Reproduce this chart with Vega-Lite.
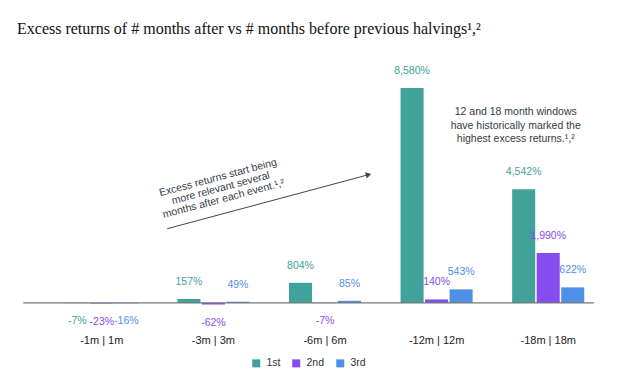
{
  "$schema": "https://vega.github.io/schema/vega-lite/v6.json",
  "autosize": "none",
  "width": 558,
  "height": 263,
  "padding": {"left": 46, "top": 65, "right": 40, "bottom": 49},
  "background": "white",
  "title": {
    "text": "Excess returns of # months after vs # months before previous halvings¹,²",
    "anchor": "start",
    "frame": "group",
    "dx": -29,
    "offset": 15,
    "baseline": "alphabetic",
    "font": "Liberation Serif",
    "fontSize": 16,
    "fontWeight": "normal",
    "color": "#111111"
  },
  "config": {
    "view": {"stroke": null},
    "font": "Liberation Sans"
  },
  "datasets": {
    "bars": [
      {"window": "-1m | 1m", "series": "1st", "value": -7, "label": "-7%"},
      {"window": "-1m | 1m", "series": "2nd", "value": -23, "label": "-23%"},
      {"window": "-1m | 1m", "series": "3rd", "value": -16, "label": "-16%"},
      {"window": "-3m | 3m", "series": "1st", "value": 157, "label": "157%"},
      {"window": "-3m | 3m", "series": "2nd", "value": -62, "label": "-62%"},
      {"window": "-3m | 3m", "series": "3rd", "value": 49, "label": "49%"},
      {"window": "-6m | 6m", "series": "1st", "value": 804, "label": "804%"},
      {"window": "-6m | 6m", "series": "2nd", "value": -7, "label": "-7%"},
      {"window": "-6m | 6m", "series": "3rd", "value": 85, "label": "85%"},
      {"window": "-12m | 12m", "series": "1st", "value": 8580, "label": "8,580%"},
      {"window": "-12m | 12m", "series": "2nd", "value": 140, "label": "140%"},
      {"window": "-12m | 12m", "series": "3rd", "value": 543, "label": "543%"},
      {"window": "-18m | 18m", "series": "1st", "value": 4542, "label": "4,542%"},
      {"window": "-18m | 18m", "series": "2nd", "value": 1990, "label": "1,990%"},
      {"window": "-18m | 18m", "series": "3rd", "value": 622, "label": "622%"}
    ],
    "baseline": [{"ix": -0.204, "ix2": 4.908, "v": 0}],
    "arrow": [{"ix": 1.087, "v": 2965, "ix2": 2.89, "v2": 5120}],
    "arrowhead": [{"ix": 2.89, "v": 5120}],
    "note1": [{"ix": 1.541, "v": 5000, "text": ["Excess returns start being", "more relevant several", "months after each event.¹,²"]}],
    "note2": [{"ix": 4.209, "v": 7605, "text": ["12 and 18 month windows", "have historically marked the", "highest excess returns.¹,²"]}]
  },
  "resolve": {"scale": {"x": "independent"}, "axis": {"x": "independent"}},
  "layer": [
    {
      "data": {"name": "bars"},
      "layer": [
        {
          "mark": {"type": "bar"},
          "encoding": {
            "x": {
              "field": "window", "type": "nominal", "sort": null,
              "scale": {"paddingInner": 0.354, "paddingOuter": 0.177},
              "axis": {"title": null, "labelAngle": 0, "domain": false, "ticks": false, "tickSize": 0, "labelPadding": 6, "labelFontSize": 11, "labelColor": "#222222", "labelFont": "Liberation Sans"}
            },
            "xOffset": {"field": "series", "type": "nominal", "scale": {"paddingInner": 0.06}},
            "y": {
              "field": "value", "type": "quantitative",
              "scale": {"domain": [-1000, 9500], "nice": false, "zero": false},
              "axis": null
            },
            "color": {
              "field": "series", "type": "nominal",
              "scale": {"domain": ["1st", "2nd", "3rd"], "range": ["#40a29a", "#874cef", "#508fe7"]},
              "legend": {
                "title": null, "orient": "none", "direction": "horizontal",
                "legendX": 205, "legendY": 293,
                "symbolType": "square", "symbolSize": 64, "symbolStrokeWidth": 0,
                "labelFontSize": 10.5, "labelColor": "#333333", "labelFont": "Liberation Sans",
                "labelOffset": 5, "columnPadding": 10
              }
            }
          }
        },
        {
          "transform": [{"filter": "datum.value >= 0"}],
          "mark": {"type": "text", "baseline": "middle", "dy": -17, "fontSize": 10.5, "font": "Liberation Sans"},
          "encoding": {
            "x": {"field": "window", "type": "nominal", "sort": null},
            "xOffset": {"field": "series", "type": "nominal"},
            "y": {"field": "value", "type": "quantitative"},
            "text": {"field": "label"},
            "color": {"field": "series", "type": "nominal", "legend": null}
          }
        },
        {
          "transform": [{"filter": "datum.value < 0"}],
          "mark": {"type": "text", "baseline": "middle", "dy": 18, "fontSize": 10.5, "font": "Liberation Sans"},
          "encoding": {
            "x": {"field": "window", "type": "nominal", "sort": null},
            "xOffset": {"field": "series", "type": "nominal"},
            "y": {"field": "value", "type": "quantitative"},
            "text": {"field": "label"},
            "color": {"field": "series", "type": "nominal", "legend": null}
          }
        }
      ]
    },
    {
      "layer": [
        {
          "data": {"name": "baseline"},
          "mark": {"type": "rule", "color": "#777777", "strokeWidth": 1.2},
          "encoding": {
            "x": {"field": "ix", "type": "quantitative", "scale": {"domain": [0, 5], "nice": false, "zero": false}, "axis": null},
            "x2": {"field": "ix2"},
            "y": {"field": "v", "type": "quantitative"}
          }
        },
        {
          "data": {"name": "arrow"},
          "mark": {"type": "rule", "color": "#444444", "strokeWidth": 1},
          "encoding": {
            "x": {"field": "ix", "type": "quantitative"},
            "x2": {"field": "ix2"},
            "y": {"field": "v", "type": "quantitative"},
            "y2": {"field": "v2"}
          }
        },
        {
          "data": {"name": "arrowhead"},
          "mark": {"type": "point", "shape": "triangle-right", "filled": true, "color": "#444444", "size": 40, "angle": 345, "opacity": 1},
          "encoding": {
            "x": {"field": "ix", "type": "quantitative"},
            "y": {"field": "v", "type": "quantitative"}
          }
        },
        {
          "data": {"name": "note1"},
          "mark": {"type": "text", "angle": 345, "align": "center", "baseline": "middle", "fontSize": 10.5, "lineHeight": 11, "color": "#333a45", "font": "Liberation Sans"},
          "encoding": {
            "x": {"field": "ix", "type": "quantitative"},
            "y": {"field": "v", "type": "quantitative"},
            "text": {"field": "text"}
          }
        },
        {
          "data": {"name": "note2"},
          "mark": {"type": "text", "align": "center", "baseline": "middle", "fontSize": 10.5, "lineHeight": 13.5, "color": "#333a45", "font": "Liberation Sans"},
          "encoding": {
            "x": {"field": "ix", "type": "quantitative"},
            "y": {"field": "v", "type": "quantitative"},
            "text": {"field": "text"}
          }
        }
      ]
    }
  ]
}
